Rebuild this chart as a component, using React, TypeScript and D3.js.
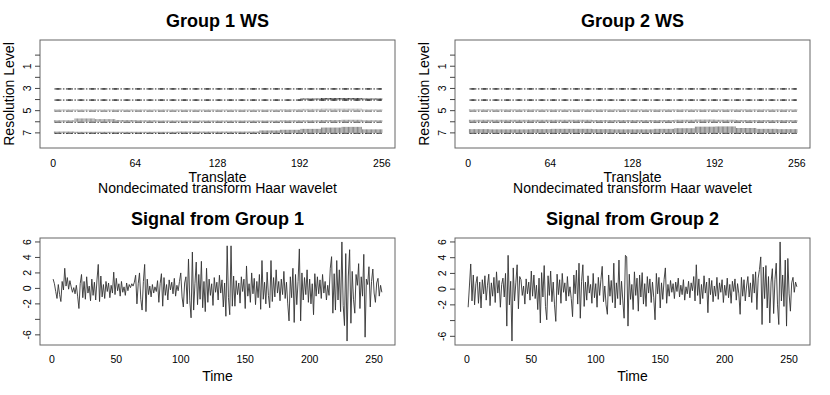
import React, { useRef, useEffect } from 'react';
import * as d3 from 'd3';

// axis ticks
const translateTicks = [0, 64, 128, 192, 256];
const levelTicks = [0, 1, 2, 3, 4, 5, 6, 7];
const levelLabels = [1, 3, 5, 7];
const levels = [3, 4, 5, 6, 7];
const timeTicks = [0, 50, 100, 150, 200, 250];
const valueTicks = [-6, -4, -2, 0, 2, 4, 6];
const valueLabels = [-6, -2, 0, 2, 4, 6];

// wavelet spectrum, coefficient size per block of 16 translates (level units)
const ws1L3 = [0.08, 0.08, 0.08, 0.08, 0.08, 0.08, 0.08, 0.08, 0.08, 0.08, 0.08, 0.08, 0.08, 0.08, 0.08, 0.08];
const ws1L4 = [0.08, 0.08, 0.08, 0.08, 0.08, 0.08, 0.08, 0.08, 0.08, 0.08, 0.08, 0.08, 0.1, 0.14, 0.14, 0.1];
const ws1L5 = [0.12, 0.12, 0.12, 0.12, 0.12, 0.12, 0.12, 0.12, 0.12, 0.12, 0.12, 0.14, 0.16, 0.18, 0.18, 0.12];
const ws1L6 = [0.14, 0.3, 0.24, 0.16, 0.14, 0.12, 0.12, 0.12, 0.12, 0.12, 0.12, 0.14, 0.14, 0.16, 0.18, 0.14];
const ws1L7 = [0.12, 0.1, 0.1, 0.1, 0.1, 0.1, 0.12, 0.12, 0.12, 0.12, 0.22, 0.28, 0.36, 0.48, 0.54, 0.32];

const ws2L3 = [0.08, 0.08, 0.08, 0.08, 0.08, 0.08, 0.08, 0.08, 0.08, 0.08, 0.08, 0.08, 0.08, 0.08, 0.08, 0.08];
const ws2L4 = [0.08, 0.08, 0.08, 0.08, 0.08, 0.08, 0.08, 0.08, 0.08, 0.08, 0.08, 0.08, 0.08, 0.08, 0.08, 0.08];
const ws2L5 = [0.14, 0.14, 0.14, 0.14, 0.14, 0.14, 0.14, 0.14, 0.14, 0.14, 0.14, 0.14, 0.14, 0.14, 0.14, 0.14];
const ws2L6 = [0.18, 0.18, 0.18, 0.18, 0.18, 0.18, 0.16, 0.16, 0.16, 0.16, 0.18, 0.2, 0.18, 0.16, 0.16, 0.16];
const ws2L7 = [0.34, 0.32, 0.32, 0.34, 0.36, 0.36, 0.34, 0.32, 0.32, 0.36, 0.42, 0.56, 0.58, 0.44, 0.36, 0.34];

const levelColors = ['#222', '#222', '#aaa', '#888', '#777'];
const baseColors = ['#222', '#222', '#555', '#444', '#333'];

// signals, time 1..256
const signal1 = [
  1.2, 0.6, -0.4, -1.3, 0.5, -0.8, -1.7, 0.9, -0.2, 2.6, 0.3, 1.4, -0.1, 1.0, 0.2, -0.5,
  0.1, -0.7, 0.4, -1.0, -2.6, 0.6, 1.8, -1.2, 0.9, -1.4, 1.5, -0.6, 0.3, -1.6, 1.2, -0.9,
  0.8, -1.5, 1.1, 3.1, -1.7, 1.6, -1.1, 0.5, -1.3, 0.9, -0.4, 0.7, -1.2, 0.4, -0.6, 2.1,
  -0.8, 1.3, -0.3, 0.6, -1.0, 0.9, -0.5, 0.2, -0.9, 0.7, -0.3, 0.5, 0.1, 0.6, 0.3, 0.8,
  1.7, -2.0, 0.6, 2.0, -1.4, -2.8, 0.9, 3.1, -3.0, 1.2, -0.8, 0.3, -1.1, 0.5, -0.6, 0.2,
  -0.4, 1.0, -1.8, 0.6, 1.9, -2.3, 1.4, -0.9, 0.5, -1.5, 1.1, -0.2, 0.8, -0.7, 1.3, -1.0,
  0.4, -0.3, 0.9, 2.0, -1.1, -2.4, 0.7, 1.5, -2.0, 3.8, -1.6, -3.8, 4.7, -2.8, 0.6, 3.4,
  -2.1, 1.8, -1.4, 3.5, -2.5, 0.9, -3.0, 2.6, -1.8, 1.2, -0.9, 0.6, -2.2, 1.4, -0.5, 0.8,
  -1.5, 1.7, -0.6, 1.1, -2.4, 0.7, -3.6, 5.5, -1.2, -3.4, 5.5, -2.3, 1.6, -2.3, 1.0, -0.8,
  0.7, -1.9, 1.5, -0.4, 1.2, -2.6, 2.9, -1.0, 0.6, -1.8, 2.0, -0.7, 1.3, -2.1, 0.9, -1.2,
  1.8, -2.7, 3.6, -1.4, 0.8, -2.0, 2.1, -0.9, -2.5, 3.6, -1.7, 1.4, -1.1, 2.4, -0.6, 0.9,
  -1.6, 1.2, -0.8, 2.2, -1.3, 0.8, -2.0, -4.2, 1.5, -1.2, 2.6, -4.4, 1.8, -2.1, 0.9, 5.1,
  -4.2, 2.0, -1.5, 1.4, -0.8, 2.4, -1.8, 1.2, -2.0, 0.6, -3.4, 1.9, -1.0, 1.5, -0.7, 1.1,
  -1.3, 1.8, -0.6, 0.9, -1.5, 0.4, -0.9, 2.6, 4.1, -3.2, 1.9, -2.8, 3.6, -1.5, 2.4, -3.0,
  6.0, -2.2, -4.8, 4.5, -6.8, 1.6, 5.0, -4.5, 2.2, -1.4, -3.2, 1.8, 0.4, 3.2, -2.6, 1.5,
  -1.0, 4.4, -6.3, 1.2, 0.5, 2.8, -2.4, 0.9, 2.5, -0.6, -1.8, 0.7, 1.3, -1.0, 0.4, -0.5,
];

const signal2 = [
  -2.3, 0.4, 3.2, -1.5, 1.8, -2.0, 0.7, 1.6, -1.8, 0.9, -2.4, 1.2, -0.6, 1.7, -1.4, 0.5,
  1.9, -2.1, 0.8, -0.9, 1.5, -1.7, 2.2, -0.5, 1.1, -2.3, 0.6, 1.4, -1.0, 2.0, -4.7, 4.3,
  -2.0, 1.0, -6.6, 2.7, -1.5, 0.8, 3.1, -2.5, 1.6, 1.2, -0.8, 0.4, -1.9, 1.3, -0.6, 0.9,
  -1.4, 2.3, -0.9, 1.8, -1.2, 0.5, -2.6, 1.4, -4.3, 2.1, -1.0, 3.0, -2.2, -3.9, 1.7, -0.8,
  2.3, -1.6, 0.9, -2.0, -4.1, 1.9, -0.7, 1.2, -1.8, 2.0, -0.4, 0.8, -1.5, 1.6, -0.9, 0.3,
  -1.2, -3.5, 1.8, -0.6, 2.4, -1.9, 3.3, -3.7, 1.0, 3.1, -2.2, 0.9, -1.4, 1.7, -0.5, 0.6,
  -1.8, 2.0, -1.1, 0.7, -2.3, 1.5, -0.8, 1.2, 2.9, -1.6, 0.4, -2.0, -3.2, 1.8, -0.9, 1.1,
  -1.7, 3.3, -2.4, 0.8, -1.2, 3.7, -2.0, 1.0, -1.5, -3.7, 4.3, 4.1, -4.7, 1.9, -1.3, 0.6,
  -2.6, 2.2, -0.8, 1.4, -2.8, 1.8, -1.0, 2.1, -1.9, 0.7, -2.2, 1.6, -0.5, 1.3, -1.7, 0.9,
  -1.1, -3.9, 2.0, -0.6, 1.5, -2.4, 0.8, -1.3, 1.2, 2.7, -1.8, 0.6, -0.9, 1.1, -0.4, 0.7,
  -1.2, 0.9, -0.3, 1.4, -1.0, 0.5, -0.7, 1.2, -1.4, 0.3, -0.6, 1.0, -1.1, 0.8, -0.2, 1.6,
  -1.5, 3.1, -0.8, 1.3, -1.9, 0.6, -1.2, 1.7, -0.5, 0.9, -3.0, 1.4, -0.7, 1.1, -1.6, 0.4,
  -0.9, 1.5, -1.3, 0.8, -0.4, 1.2, -1.7, 0.5, -0.8, 1.4, -1.1, 0.6, -1.8, 1.0, -0.3, 1.3,
  -1.4, 0.7, -0.6, -3.2, 1.5, -0.9, 1.2, -1.5, 0.4, 1.6, -1.0, 0.8, -1.7, 1.9, -0.5, 2.2,
  -2.6, 1.4, 2.5, 4.1, -4.5, 2.8, -1.2, 3.0, -2.4, 1.6, -4.3, 0.9, 2.6, -3.1, 1.2, 3.3,
  -2.0, -4.5, 6.0, -1.5, 1.8, -2.2, 3.7, -4.7, 3.9, -0.6, -2.8, 0.8, 1.5, -0.4, 0.9, 0.3,
];

const FONT = '"Liberation Sans", Arial, Helvetica, sans-serif';
const W = 830;
const H = 395;
const COL = 415; // horizontal offset of the right column
const box = { left: 40, right: 395, wsTop: 40, wsBottom: 148, sigTop: 238, sigBottom: 345 };

function drawWS(svg, dx, title, rows) {
  const g = svg.append('g');
  const x = d3.scaleLinear().domain([-10.24, 266.24]).range([dx + box.left, dx + box.right]);
  const y = d3.scaleLinear().domain([-1.36, 8.36]).range([box.wsTop, box.wsBottom]);
  const unit = y(1) - y(0);
  const translates = d3.range(1, 257);

  rows.forEach((heights, li) => {
    const base = y(levels[li]);
    // coefficient segments above the baseline
    g.append('g')
      .selectAll('line')
      .data(translates.filter(t => heights[Math.floor((t - 1) / 16)] * unit > 1.1))
      .join('line')
      .attr('x1', t => x(t))
      .attr('x2', t => x(t))
      .attr('y1', base)
      .attr('y2', t => base - heights[Math.floor((t - 1) / 16)] * unit)
      .attr('stroke', levelColors[li])
      .attr('stroke-width', 0.9);
    // dot-dash baseline
    g.append('line')
      .attr('x1', x(1)).attr('x2', x(256))
      .attr('y1', base + 0.5).attr('y2', base + 0.5)
      .attr('stroke', baseColors[li])
      .attr('stroke-width', 1)
      .attr('stroke-dasharray', '7 1.5 1.5 1.5');
    g.append('line')
      .attr('x1', x(1)).attr('x2', x(256))
      .attr('y1', base + 0.5).attr('y2', base + 0.5)
      .attr('stroke', levelColors[li])
      .attr('stroke-width', 1)
      .attr('stroke-dasharray', '3 8.5')
      .attr('stroke-dashoffset', -2);
  });

  g.append('rect')
    .attr('x', dx + box.left).attr('y', box.wsTop)
    .attr('width', box.right - box.left).attr('height', box.wsBottom - box.wsTop)
    .attr('fill', 'none').attr('stroke', '#666');

  // y axis
  g.selectAll('.ytick').data(levelTicks).join('line')
    .attr('x1', dx + box.left - 5).attr('x2', dx + box.left)
    .attr('y1', d => y(d)).attr('y2', d => y(d))
    .attr('stroke', '#444');
  g.selectAll('.ylab').data(levelLabels).join('text')
    .attr('transform', d => `translate(${dx + 31},${y(d)}) rotate(-90)`)
    .attr('text-anchor', 'middle')
    .style('font-size', '10.5px')
    .text(d => d);

  // x axis labels
  g.selectAll('.xlab').data(translateTicks).join('text')
    .attr('x', d => x(d)).attr('y', 167)
    .attr('text-anchor', 'middle')
    .style('font-size', '10.5px')
    .text(d => d);

  g.append('text').attr('x', dx + 217.5).attr('y', 27).attr('text-anchor', 'middle')
    .style('font-size', '18px').style('font-weight', 'bold').text(title);
  g.append('text').attr('x', dx + 217.5).attr('y', 182).attr('text-anchor', 'middle')
    .style('font-size', '14px').text('Translate');
  g.append('text').attr('x', dx + 217.5).attr('y', 193).attr('text-anchor', 'middle')
    .style('font-size', '14px').text('Nondecimated transform Haar wavelet');
  g.append('text')
    .attr('transform', `translate(${dx + 14},${(box.wsTop + box.wsBottom) / 2}) rotate(-90)`)
    .attr('text-anchor', 'middle')
    .style('font-size', '14px')
    .text('Resolution Level');
}

function drawSignal(svg, dx, title, values) {
  const g = svg.append('g');
  const x = d3.scaleLinear().domain([1 - 10.2, 256 + 10.2]).range([dx + box.left, dx + box.right]);
  const [lo, hi] = d3.extent(values);
  const pad = (hi - lo) * 0.04;
  const y = d3.scaleLinear().domain([lo - pad, hi + pad]).range([box.sigBottom, box.sigTop]);

  const line = d3.line().x((d, i) => x(i + 1)).y(d => y(d));
  g.append('path')
    .attr('d', line(values))
    .attr('fill', 'none')
    .attr('stroke', '#333')
    .attr('stroke-width', 0.9);

  g.append('rect')
    .attr('x', dx + box.left).attr('y', box.sigTop)
    .attr('width', box.right - box.left).attr('height', box.sigBottom - box.sigTop)
    .attr('fill', 'none').attr('stroke', '#666');

  g.selectAll('.ytick').data(valueTicks).join('line')
    .attr('x1', dx + box.left - 5).attr('x2', dx + box.left)
    .attr('y1', d => y(d)).attr('y2', d => y(d))
    .attr('stroke', '#444');
  g.selectAll('.ylab').data(valueLabels).join('text')
    .attr('transform', d => `translate(${dx + 31},${y(d)}) rotate(-90)`)
    .attr('text-anchor', 'middle')
    .style('font-size', '10.5px')
    .text(d => d);

  g.selectAll('.xlab').data(timeTicks).join('text')
    .attr('x', d => x(d)).attr('y', 363)
    .attr('text-anchor', 'middle')
    .style('font-size', '10.5px')
    .text(d => d);

  g.append('text').attr('x', dx + 217.5).attr('y', 225).attr('text-anchor', 'middle')
    .style('font-size', '18px').style('font-weight', 'bold').text(title);
  g.append('text').attr('x', dx + 217.5).attr('y', 381).attr('text-anchor', 'middle')
    .style('font-size', '14px').text('Time');
}

export default function App() {
  const svgRef = useRef(null);

  useEffect(() => {
    const svg = d3.select(svgRef.current);
    svg.selectAll('*').remove();
    svg.attr('width', W).attr('height', H).style('font-family', FONT);

    svg.append('rect').attr('width', W).attr('height', H).attr('fill', '#fff');

    drawWS(svg, 0, 'Group 1 WS', [ws1L3, ws1L4, ws1L5, ws1L6, ws1L7]);
    drawWS(svg, COL, 'Group 2 WS', [ws2L3, ws2L4, ws2L5, ws2L6, ws2L7]);
    drawSignal(svg, 0, 'Signal from Group 1', signal1);
    drawSignal(svg, COL, 'Signal from Group 2', signal2);
  }, []);

  return (
    <svg
      ref={svgRef}
      style={{ position: 'fixed', left: 0, top: 0, display: 'block' }}
    />
  );
}
